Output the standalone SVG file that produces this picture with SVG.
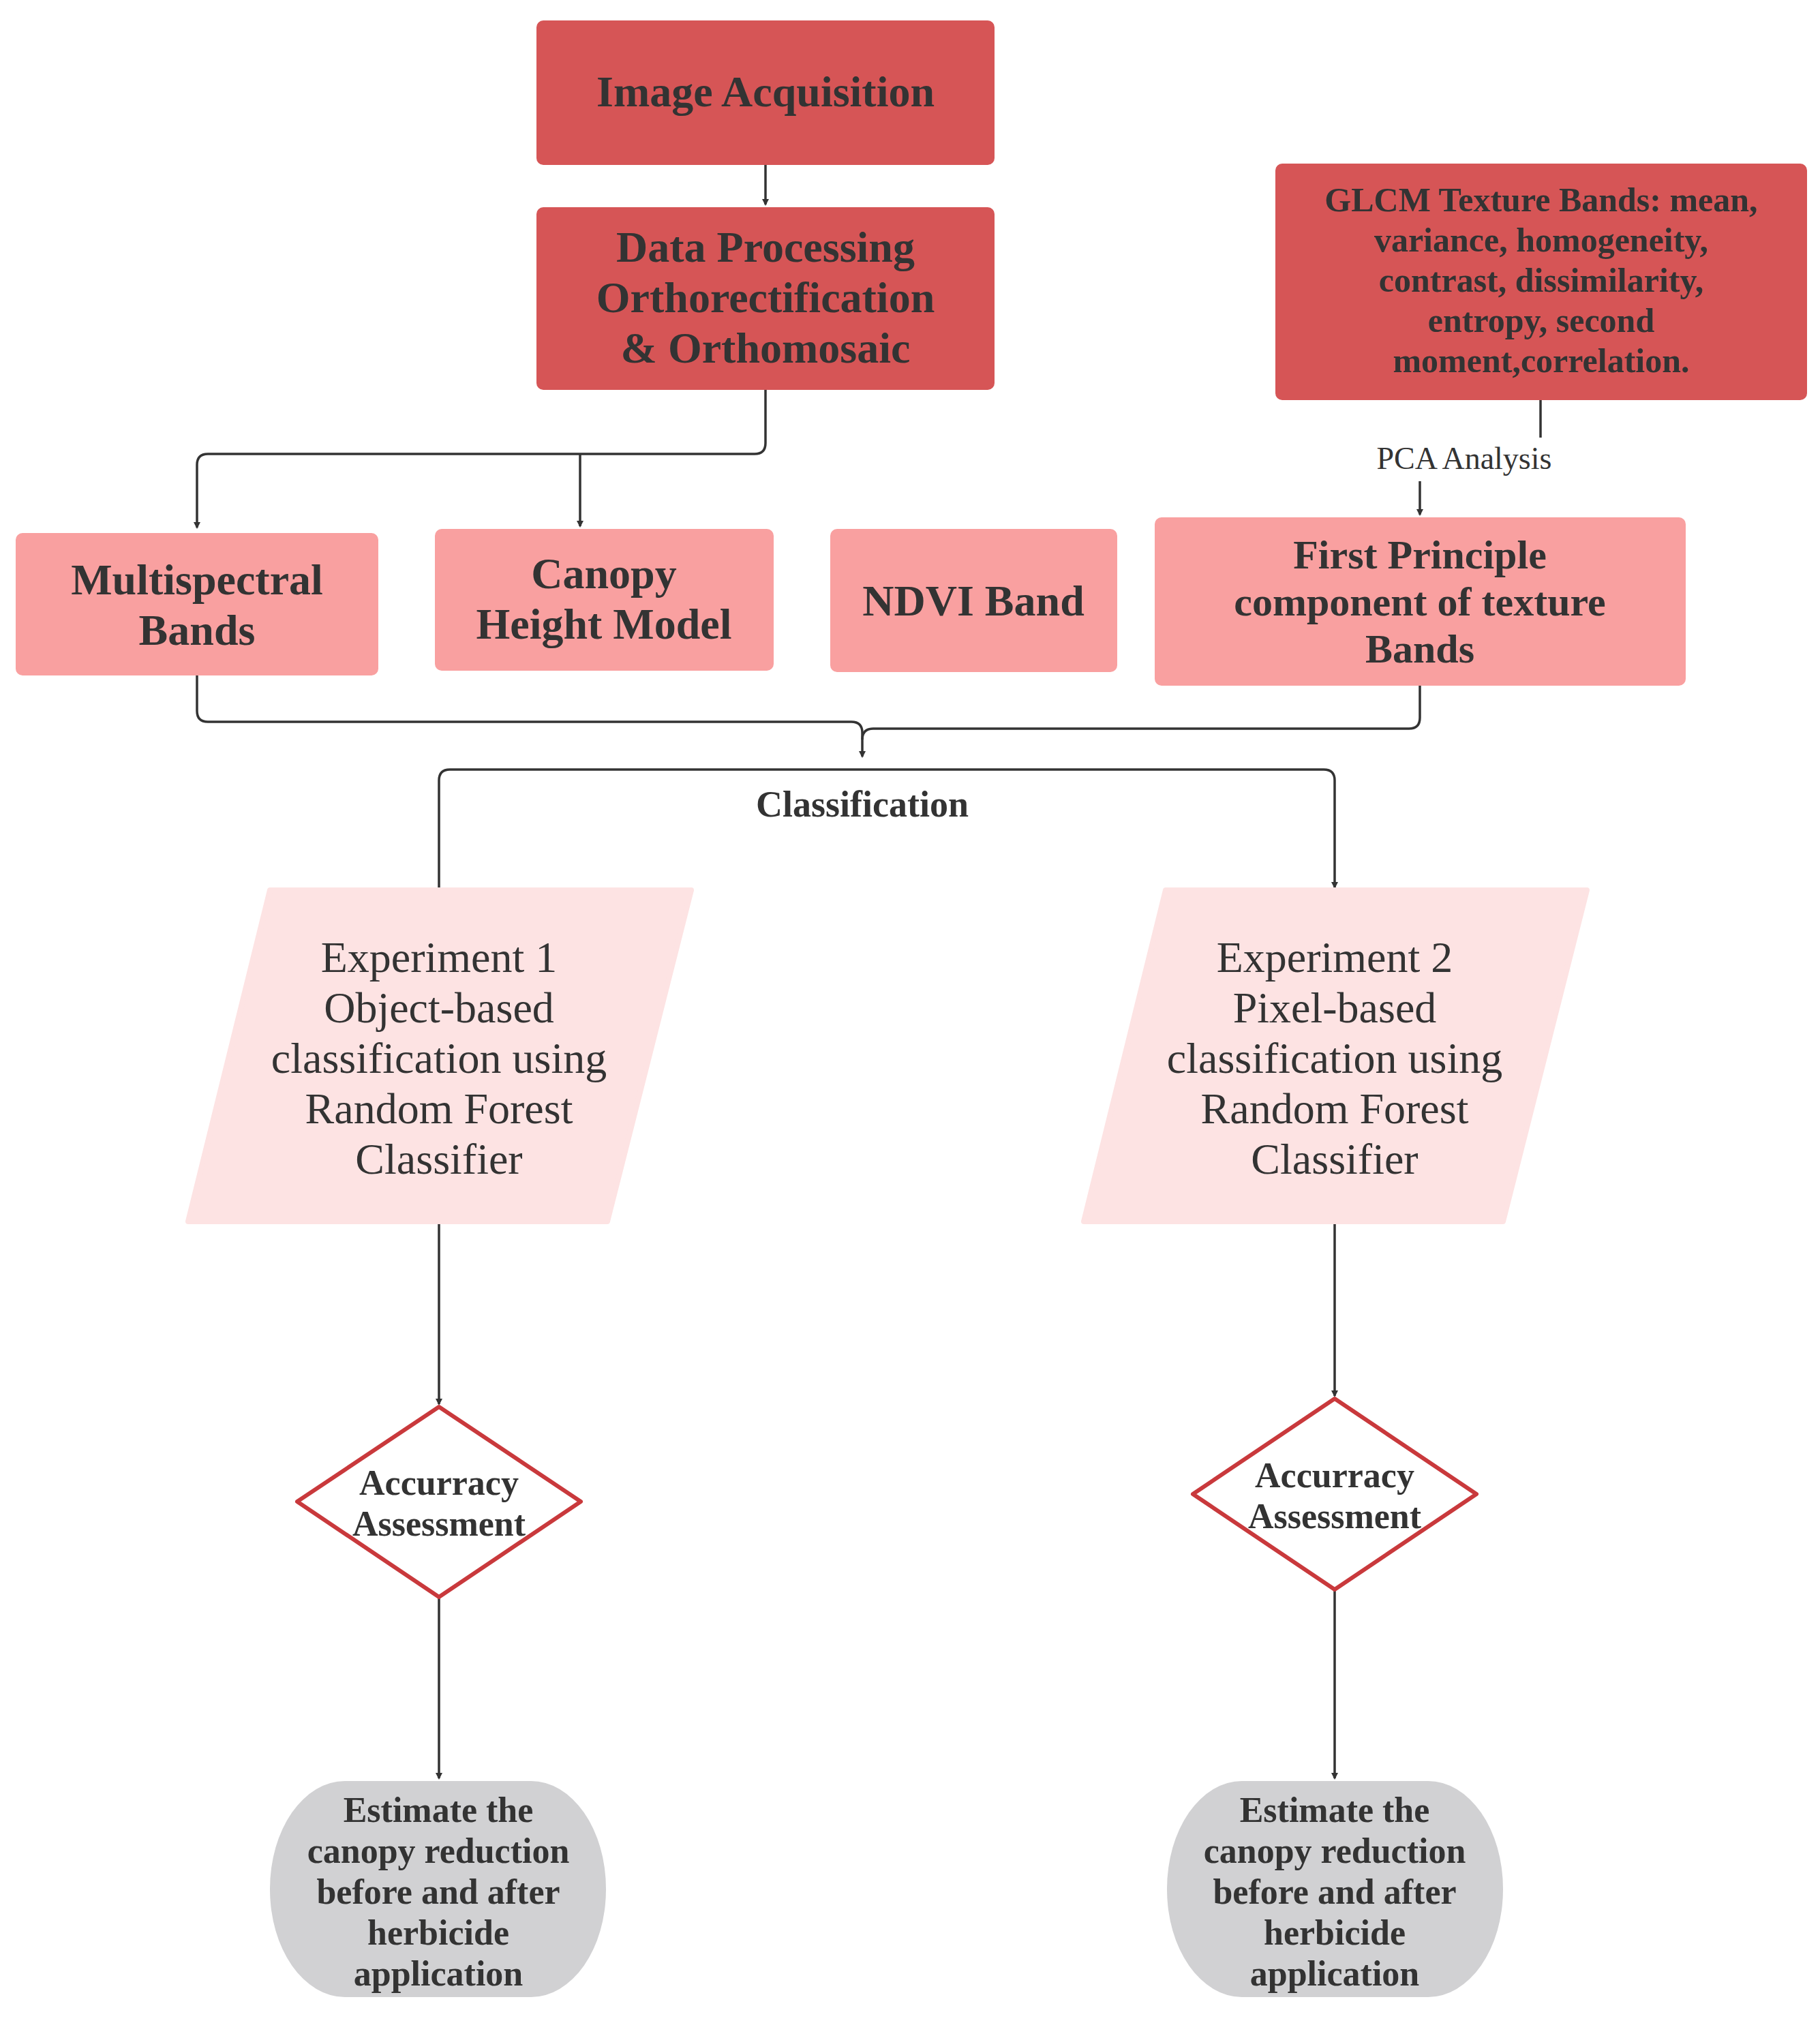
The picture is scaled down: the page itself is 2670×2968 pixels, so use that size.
<svg xmlns="http://www.w3.org/2000/svg" width="2670" height="2968" viewBox="0 0 2670 2968">
<style>
.dk{fill:#D65556}.pk{fill:#F9A0A0}.lp{fill:#FDE3E3}.gr{fill:#D1D1D3}
text{font-family:"Liberation Serif","DejaVu Serif",serif;fill:#333;text-anchor:middle}
.b{font-weight:bold}
.c{fill:none;stroke:#333;stroke-width:3.5}
</style>
<defs><marker id="a" markerWidth="10" markerHeight="10" refX="8" refY="5" orient="auto" markerUnits="userSpaceOnUse" viewBox="0 0 10 10"><path d="M0,0L10,5L0,10z" fill="#333"/></marker></defs>
<rect width="2670" height="2968" fill="#fff"/>
<g id="connectors">
<path class="c" d="M1123,242V300" marker-end="url(#a)"/>
<path class="c" d="M1123,572V650Q1123,666 1107,666H305Q289,666 289,682V774" marker-end="url(#a)"/>
<path class="c" d="M851,666V772" marker-end="url(#a)"/>
<path class="c" d="M2260,587V642"/>
<path class="c" d="M2083,706V755" marker-end="url(#a)"/>
<path class="c" d="M289,991V1043Q289,1059 305,1059H1249Q1265,1059 1265,1075V1110" marker-end="url(#a)"/>
<path class="c" d="M2083,1006V1053Q2083,1069 2067,1069H1281Q1265,1069 1265,1085"/>
<path class="c" d="M644,1302V1145Q644,1129 660,1129H1942Q1958,1129 1958,1145V1302" marker-end="url(#a)"/>
<path class="c" d="M644,1792V2060" marker-end="url(#a)"/>
<path class="c" d="M1958,1792V2048" marker-end="url(#a)"/>
<path class="c" d="M644,2343V2609" marker-end="url(#a)"/>
<path class="c" d="M1958,2332V2609" marker-end="url(#a)"/>
<text x="2148" y="688" font-size="46">PCA Analysis</text>
<text x="1265" y="1198" font-size="54" class="b">Classification</text>
</g>
<g id="n1"><rect class="dk" x="787" y="30" width="672" height="212" rx="10"/><text x="1123" y="156" font-size="64" class="b">Image Acquisition</text></g>
<g id="n2"><rect class="dk" x="787" y="304" width="672" height="268" rx="10"/><text font-size="64" class="b"><tspan x="1123" y="384">Data Processing</tspan><tspan x="1123" y="458">Orthorectification</tspan><tspan x="1123" y="532">&amp; Orthomosaic</tspan></text></g>
<g id="n3"><rect class="dk" x="1871" y="240" width="780" height="347" rx="10"/><text font-size="50" class="b"><tspan x="2261" y="310">GLCM Texture Bands: mean,</tspan><tspan x="2261" y="369">variance, homogeneity,</tspan><tspan x="2261" y="428">contrast, dissimilarity,</tspan><tspan x="2261" y="487">entropy, second</tspan><tspan x="2261" y="546">moment,correlation.</tspan></text></g>
<g id="n4"><rect class="pk" x="23" y="782" width="532" height="209" rx="10"/><text font-size="64" class="b"><tspan x="289" y="872">Multispectral</tspan><tspan x="289" y="946">Bands</tspan></text></g>
<g id="n5"><rect class="pk" x="638" y="776" width="497" height="208" rx="10"/><text font-size="64" class="b"><tspan x="886" y="863">Canopy</tspan><tspan x="886" y="937">Height Model</tspan></text></g>
<g id="n6"><rect class="pk" x="1218" y="776" width="421" height="210" rx="10"/><text x="1428" y="903" font-size="64" class="b">NDVI Band</text></g>
<g id="n7"><rect class="pk" x="1694" y="759" width="779" height="247" rx="10"/><text font-size="60" class="b"><tspan x="2083" y="834">First Principle</tspan><tspan x="2083" y="903">component of texture</tspan><tspan x="2083" y="972">Bands</tspan></text></g>
<g id="n8"><path class="lp" d="M396,1306H1014L891,1792H276Z" stroke="#FDE3E3" stroke-width="8" stroke-linejoin="round"/><text font-size="64"><tspan x="644" y="1426">Experiment 1</tspan><tspan x="644" y="1500">Object-based</tspan><tspan x="644" y="1574">classification using</tspan><tspan x="644" y="1648">Random Forest</tspan><tspan x="644" y="1722">Classifier</tspan></text></g>
<g id="n9"><path class="lp" d="M1710,1306H2328L2205,1792H1590Z" stroke="#FDE3E3" stroke-width="8" stroke-linejoin="round"/><text font-size="64"><tspan x="1958" y="1426">Experiment 2</tspan><tspan x="1958" y="1500">Pixel-based</tspan><tspan x="1958" y="1574">classification using</tspan><tspan x="1958" y="1648">Random Forest</tspan><tspan x="1958" y="1722">Classifier</tspan></text></g>
<g id="n10"><path d="M644,2064L852,2203L644,2343L436,2203Z" fill="#fff" stroke="#C9393C" stroke-width="6" stroke-linejoin="round"/><text font-size="52" class="b"><tspan x="644" y="2193">Accurracy</tspan><tspan x="644" y="2253">Assessment</tspan></text></g>
<g id="n11"><path d="M1958,2052L2166,2192L1958,2332L1750,2192Z" fill="#fff" stroke="#C9393C" stroke-width="6" stroke-linejoin="round"/><text font-size="52" class="b"><tspan x="1958" y="2182">Accurracy</tspan><tspan x="1958" y="2242">Assessment</tspan></text></g>
<g id="n12"><rect class="gr" x="396" y="2613" width="493" height="317" rx="110" ry="158"/><text font-size="52" class="b"><tspan x="643" y="2673">Estimate the</tspan><tspan x="643" y="2733">canopy reduction</tspan><tspan x="643" y="2793">before and after</tspan><tspan x="643" y="2853">herbicide</tspan><tspan x="643" y="2913">application</tspan></text></g>
<g id="n13"><rect class="gr" x="1712" y="2613" width="493" height="317" rx="110" ry="158"/><text font-size="52" class="b"><tspan x="1958" y="2673">Estimate the</tspan><tspan x="1958" y="2733">canopy reduction</tspan><tspan x="1958" y="2793">before and after</tspan><tspan x="1958" y="2853">herbicide</tspan><tspan x="1958" y="2913">application</tspan></text></g>
</svg>
